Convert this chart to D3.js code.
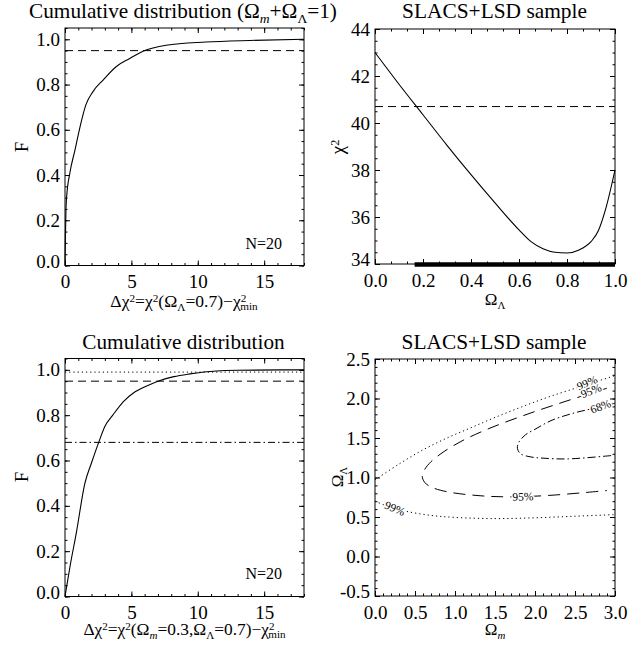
<!DOCTYPE html>
<html><head><meta charset="utf-8">
<script src="https://cdn.jsdelivr.net/npm/d3@7"></script>
<style>
body{margin:0;background:#fff;}
svg text{font-family:"Liberation Serif","Times New Roman",serif;fill:#000;}
</style></head><body>
<svg id="c" width="643" height="646" font-family="Liberation Serif, serif"></svg>
<script>
// ---------------- DATA ----------------
// Top-left: cumulative distribution of delta chi^2 (flat)
const cdfTopX = [0,0.03,0.07,0.12,0.37,0.75,1.12,1.57,2.12,2.87,3.87,4.87,5.87,7.62,10.6,13.9,18];
const cdfTopF = [0,0.12,0.24,0.30,0.41,0.51,0.61,0.71,0.77,0.82,0.88,0.915,0.947,0.974,0.988,0.995,1.0];
const topRefLevels = [0.95];
// Bottom-left: cumulative distribution (Om=0.3, OL=0.7)
const cdfBotX = [0,0.4,0.85,1.5,2.0,2.6,3.0,3.6,4.4,5.2,6.2,7.1,8.2,9.4,11.4,13,18];
const cdfBotF = [0,0.14,0.28,0.50,0.59,0.69,0.75,0.80,0.86,0.90,0.93,0.952,0.97,0.982,0.995,0.998,1.0];
const botRefLevels = [0.99,0.95,0.68];
const nLabel = "N=20";
// Top-right: chi^2 vs Omega_Lambda
const omegaL = [0,0.1,0.2,0.3,0.4,0.5,0.6,0.65,0.7,0.75,0.8,0.85,0.9,0.93,0.96,1.0];
const chi2 = [43.0,41.65,40.35,39.05,37.8,36.6,35.45,34.95,34.65,34.5,34.47,34.6,34.95,35.4,36.3,38.0];
const chi2Ref = 40.7;
const allowedRange = [0.165,1.0];
// Bottom-right: confidence contours (Omega_m, Omega_Lambda)
const c99UpperM = [0,0.3,0.6,0.9,1.2,1.5,1.85,2.2,2.6,3.0];
const c99UpperL = [0.97,1.17,1.35,1.50,1.63,1.76,1.90,2.03,2.16,2.29];
const c99LowerM = [0,0.2,0.4,0.7,1.0,1.5,2.0,2.5,3.0];
const c99LowerL = [0.70,0.62,0.57,0.52,0.495,0.48,0.49,0.51,0.53];
const c95M = [2.9,2.4,1.9,1.45,1.1,0.85,0.7,0.62,0.59,0.62,0.7,0.9,1.3,1.7,2.2,2.9];
const c95L = [2.13,1.97,1.80,1.63,1.47,1.32,1.2,1.1,1.02,0.94,0.88,0.82,0.77,0.755,0.775,0.835];
const c68M = [3.0,2.8,2.5,2.2,2.0,1.88,1.8,1.78,1.82,1.95,2.1,2.4,2.98];
const c68L = [1.94,1.89,1.82,1.72,1.61,1.54,1.45,1.37,1.30,1.26,1.245,1.235,1.28];
const contourLabels = [
  {t:"99%", m:2.65, l:2.20, rot:-22},
  {t:"95%", m:2.7, l:2.10, rot:-22},
  {t:"68%", m:2.82, l:1.90, rot:-20},
  {t:"99%", m:0.25, l:0.61, rot:22},
  {t:"95%", m:1.85, l:0.76, rot:-2}
];

// ---------------- DRAWING ----------------
const svg = d3.select("#c");
const TF = 19;
const FF = '"Liberation Serif","Times New Roman",serif';

function panel(o) {
  const x = d3.scaleLinear().domain(o.xDomain).range([o.x0, o.x1]);
  const y = d3.scaleLinear().domain(o.yDomain).range([o.y1, o.y0]);
  const g = svg.append("g");
  const M = 5, m = 2.5;
  const add = (fn, scale, vals, size, fmt, tr, pad) => {
    const a = fn(scale).tickValues(vals).tickSizeInner(-size).tickSizeOuter(0)
      .tickPadding(pad || 0).tickFormat(fmt || (() => ""));
    const ga = g.append("g").attr("transform", tr).call(a);
    ga.attr("font-family", null).attr("font-size", null);
    ga.select(".domain").remove();
    ga.selectAll("line").attr("stroke", "#000").attr("stroke-width", 1);
    ga.selectAll("text").attr("fill", "#000").style("font-size", TF + "px").style("font-family", FF);
    return ga;
  };
  const bt = `translate(0,${o.y1})`, tt = `translate(0,${o.y0})`;
  const lt = `translate(${o.x0},0)`, rt = `translate(${o.x1},0)`;
  add(d3.axisBottom, x, o.xMinor, m, null, bt);
  add(d3.axisTop, x, o.xMinor, m, null, tt);
  add(d3.axisLeft, y, o.yMinor, m, null, lt);
  add(d3.axisRight, y, o.yMinor, m, null, rt);
  add(d3.axisBottom, x, o.xMajor, M, o.xFmt, bt, 9.5);
  add(d3.axisTop, x, o.xMajor, M, null, tt);
  const ly = add(d3.axisLeft, y, o.yMajor, M, o.yFmt, lt, 5);
  add(d3.axisRight, y, o.yMajor, M, null, rt);
  ly.selectAll("text").filter(d => d === o.yMajor[0]).attr("dy", "0.1em");
  g.append("rect").attr("x", o.x0).attr("y", o.y0).attr("width", o.x1 - o.x0)
    .attr("height", o.y1 - o.y0).attr("fill", "none").attr("stroke", "#000").attr("stroke-width", 1);
  return {x, y, g};
}
const rng = (a, b, s) => d3.range(0, Math.round((b - a) / s) + 1).map(i => +(a + i * s).toFixed(6));
const f1 = d => d.toFixed(1);
const fi = d => d.toFixed(0);

function richText(parent, x, y, parts, size, opts) {
  opts = opts || {};
  const t = parent.append("text")
    .attr("text-anchor", "middle").style("font-size", size + "px").style("font-family", FF);
  let shift = 0;
  parts.forEach(p => {
    const ts = t.append("tspan").text(p.s);
    let target = 0;
    if (p.sub) target = size * 0.26;
    if (p.sup) target = -size * 0.28;
    if (p.min) target = size * 0.2;
    ts.attr("dy", (target - shift).toFixed(2));
    shift = target;
    if (p.sub || p.sup || p.min) ts.style("font-size", (size * 0.64) + "px");
    if (p.it) ts.style("font-style", "italic");
    if (p.dx) ts.attr("dx", p.dx);
  });
  let sx = 1;
  if (opts.width) {
    const w = t.node().getBBox().width;
    if (w > 0) sx = opts.width / w;
  }
  t.attr("transform", `translate(${x},${y})` + (opts.rotate ? ` rotate(${opts.rotate})` : "") + (sx !== 1 ? ` scale(${sx.toFixed(4)},1)` : ""));
  return t;
}

// ---- Top-left panel ----
const P1 = panel({x0:65, x1:304, y0:28, y1:265.5, xDomain:[0,18], yDomain:[0,1.05],
  xMajor:[0,5,10,15], xMinor:rng(0,18,1), yMajor:rng(0,1,0.2), yMinor:rng(0,1.05,0.05),
  xFmt:fi, yFmt:f1});
topRefLevels.forEach(v => P1.g.append("line").attr("x1", P1.x(0)).attr("x2", P1.x(18))
  .attr("y1", P1.y(v)).attr("y2", P1.y(v)).attr("stroke", "#000").attr("stroke-dasharray", "8,5"));
P1.g.append("path").datum(cdfTopX.map((v, i) => [v, cdfTopF[i]]))
  .attr("d", d3.line().x(d => P1.x(d[0])).y(d => P1.y(d[1])).curve(d3.curveMonotoneX))
  .attr("fill", "none").attr("stroke", "#000").attr("stroke-width", 1.1);
P1.g.append("text").attr("x", 282).attr("y", 249).attr("text-anchor", "end").style("font-size", "16px").text(nLabel);
richText(svg, 183, 18, [{s:"Cumulative distribution (Ω"},{s:"m", sub:true, it:true},{s:"+Ω"},{s:"Λ", sub:true},{s:"=1)"}], 21, {width:308});
richText(svg, 184, 307, [{s:"Δχ"},{s:"2", sup:true},{s:"=χ"},{s:"2", sup:true},{s:"(Ω"},{s:"Λ", sub:true},{s:"=0.7)−χ"},{s:"2", sup:true},{s:"min", min:true, dx:-6}], 17, {width:148});
richText(svg, 28, 147, [{s:"F"}], 19, {rotate:-90});

// ---- Top-right panel ----
const P2 = panel({x0:375, x1:615, y0:29, y1:264, xDomain:[0,1], yDomain:[34,44],
  xMajor:rng(0,1,0.2), xMinor:rng(0,1,1/15), yMajor:rng(34,44,2), yMinor:rng(34,44,0.5),
  xFmt:f1, yFmt:fi});
P2.g.append("line").attr("x1", P2.x(0)).attr("x2", P2.x(1)).attr("y1", P2.y(chi2Ref)).attr("y2", P2.y(chi2Ref))
  .attr("stroke", "#000").attr("stroke-dasharray", "8,5");
P2.g.append("path").datum(omegaL.map((v, i) => [v, chi2[i]]))
  .attr("d", d3.line().x(d => P2.x(d[0])).y(d => P2.y(d[1])).curve(d3.curveMonotoneX))
  .attr("fill", "none").attr("stroke", "#000").attr("stroke-width", 1.1);
P2.g.append("line").attr("x1", P2.x(allowedRange[0])).attr("x2", P2.x(allowedRange[1]))
  .attr("y1", P2.y(34) + 0.5).attr("y2", P2.y(34) + 0.5).attr("stroke", "#000").attr("stroke-width", 4.5);
richText(svg, 494.5, 18, [{s:"SLACS+LSD sample"}], 21, {width:185});
richText(svg, 495, 305, [{s:"Ω"},{s:"Λ", sub:true}], 17);
richText(svg, 344, 147, [{s:"χ"},{s:"2", sup:true}], 19, {rotate:-90});

// ---- Bottom-left panel ----
const P3 = panel({x0:65, x1:304, y0:358.5, y1:596.5, xDomain:[0,18], yDomain:[0,1.05],
  xMajor:[0,5,10,15], xMinor:rng(0,18,1), yMajor:rng(0,1,0.2), yMinor:rng(0,1.05,0.05),
  xFmt:fi, yFmt:f1});
const refDash = {0.99:"1.2,3", 0.95:"8,5", 0.68:"7,3,1.5,3"};
botRefLevels.forEach(v => P3.g.append("line").attr("x1", P3.x(0)).attr("x2", P3.x(18))
  .attr("y1", P3.y(v)).attr("y2", P3.y(v)).attr("stroke", "#000").attr("stroke-dasharray", refDash[v]));
P3.g.append("path").datum(cdfBotX.map((v, i) => [v, cdfBotF[i]]))
  .attr("d", d3.line().x(d => P3.x(d[0])).y(d => P3.y(d[1])).curve(d3.curveMonotoneX))
  .attr("fill", "none").attr("stroke", "#000").attr("stroke-width", 1.1);
P3.g.append("text").attr("x", 282).attr("y", 579).attr("text-anchor", "end").style("font-size", "16px").text(nLabel);
richText(svg, 183.5, 349, [{s:"Cumulative distribution"}], 21, {width:203});
richText(svg, 184.5, 635, [{s:"Δχ"},{s:"2", sup:true},{s:"=χ"},{s:"2", sup:true},{s:"(Ω"},{s:"m", sub:true, it:true},{s:"=0.3,Ω"},{s:"Λ", sub:true},{s:"=0.7)−χ"},{s:"2", sup:true},{s:"min", min:true, dx:-6}], 17, {width:203});
richText(svg, 28, 477, [{s:"F"}], 19, {rotate:-90});

// ---- Bottom-right panel ----
const P4 = panel({x0:375, x1:615, y0:359, y1:596, xDomain:[0,3], yDomain:[-0.5,2.5],
  xMajor:rng(0,3,0.5), xMinor:rng(0,3,0.1), yMajor:rng(-0.5,2.5,0.5), yMinor:rng(-0.5,2.5,0.1),
  xFmt:f1, yFmt:f1});
const cl = d3.line().x(d => P4.x(d[0])).y(d => P4.y(d[1])).curve(d3.curveCatmullRom);
P4.g.append("clipPath").attr("id", "cp").append("rect")
  .attr("x", 375).attr("y", 359).attr("width", 240).attr("height", 237);
const cg = P4.g.append("g").attr("clip-path", "url(#cp)");
const contour = (M, L, dash) => cg.append("path").datum(M.map((v, i) => [v, L[i]])).attr("d", cl)
  .attr("fill", "none").attr("stroke", "#000").attr("stroke-width", 1).attr("stroke-dasharray", dash);
contour(c99UpperM, c99UpperL, "1.2,3");
contour(c99LowerM, c99LowerL, "1.2,3");
contour(c95M, c95L, "12,7");
contour(c68M, c68L, "8,3,1.5,3");
contourLabels.forEach(c => P4.g.append("text")
  .attr("transform", `translate(${P4.x(c.m)},${P4.y(c.l)}) rotate(${c.rot})`)
  .attr("text-anchor", "middle").attr("dy", "0.35em")
  .style("font-size", "11.5px").attr("fill", "#555")
  .attr("stroke", "#fff").attr("stroke-width", 3).attr("paint-order", "stroke").text(c.t));
richText(svg, 494, 349, [{s:"SLACS+LSD sample"}], 21, {width:185});
richText(svg, 495, 635, [{s:"Ω"},{s:"m", sub:true, it:true}], 17);
richText(svg, 343, 477, [{s:"Ω"},{s:"Λ", sub:true}], 17, {rotate:-90});
</script>
</body></html>
